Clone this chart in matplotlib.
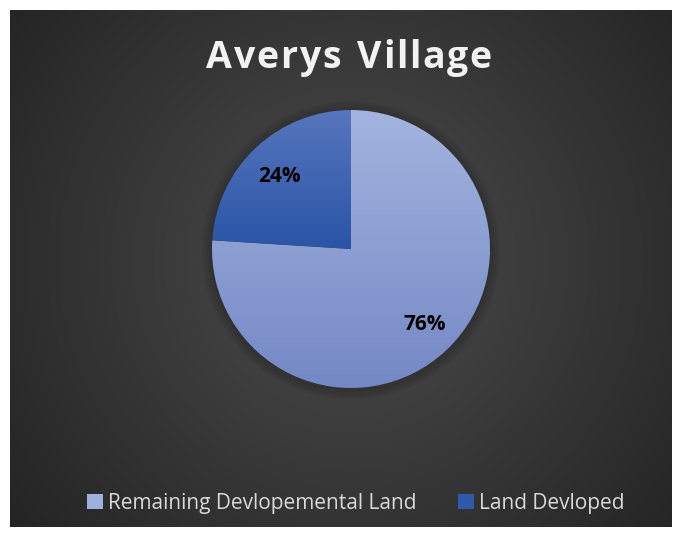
import numpy as np
import matplotlib
matplotlib.use("Agg")
import matplotlib.pyplot as plt
from matplotlib.patches import Patch, Circle
from matplotlib.colors import LinearSegmentedColormap

title = "Averys Village"
categories = ["Remaining Devlopemental Land", "Land Devloped"]
values = [76, 24]
pct_labels = ["76%", "24%"]

W, H = 680, 535
fig = plt.figure(figsize=(W / 100, H / 100), dpi=100)
fig.patch.set_facecolor("white")

# background panel with radial gradient
bg = fig.add_axes([10 / W, 1 - 527 / H, 662 / W, 517 / H])
bg.set_axis_off()
yy, xx = np.mgrid[0:517, 0:662]
cx, cy = 340, 250
d = np.sqrt(((xx - cx) / 420.0) ** 2 + ((yy - cy) / 420.0) ** 2)
d = np.clip(d, 0, 1)
c0, c1 = 0.30, 0.145
img = c0 + (c1 - c0) * d
bg.imshow(np.dstack([img, img, img]), aspect="auto", extent=[0, 1, 0, 1], zorder=0)
bg.set_xlim(0, 1)
bg.set_ylim(0, 1)

# pie axes
r = 139
pcx, pcy = 351, 249
pad = 12
ax = fig.add_axes([(pcx - r - pad) / W, 1 - (pcy + r + pad) / H, (2 * r + 2 * pad) / W, (2 * r + 2 * pad) / H])
ax.set_axis_off()
lim = 1 + pad / r

for i, a in enumerate([0.05, 0.05, 0.05, 0.05]):
    ax.add_patch(Circle((0, -0.01), 1 + 0.018 * (i + 1), color="black", alpha=a, lw=0, zorder=1))

wedges, _ = ax.pie(values, startangle=90, counterclock=False, radius=1,
                   wedgeprops=dict(linewidth=0), frame=False)
ax.set_aspect("auto")

grads = [("#a4b4df", "#7488c5"), ("#5676bd", "#2a54a6")]
for w, (top, bot) in zip(wedges, grads):
    w.set_facecolor("none")
    w.set_zorder(2)
    cmap = LinearSegmentedColormap.from_list("g", [bot, top])
    bb = w.get_path().get_extents(w.get_transform() - ax.transData)
    grad = np.linspace(0, 1, 256).reshape(-1, 1)
    im = ax.imshow(grad, cmap=cmap, origin="lower", aspect="auto",
                   extent=[-1, 1, bb.y0, bb.y1], zorder=2)
    im.set_clip_path(w)
ax.set_xlim(-lim, lim)
ax.set_ylim(-lim, lim)

lab_pos = [(425, 325), (279, 177)]
for (px, py), t in zip(lab_pos, pct_labels):
    fig.text(px / W, 1 - py / H, t, ha="center", va="center", fontsize=15,
             fontweight="bold", family="Open Sans", color="black")

# title with expanded letter spacing
fig.canvas.draw()
renderer = fig.canvas.get_renderer()
tprops = dict(fontsize=27, fontweight="bold", family="Open Sans", color="#f2f2f2")
spacing = 1.6
widths = []
for ch in title:
    t = fig.text(0, 0, ch if ch != " " else "n", **tprops)
    widths.append(t.get_window_extent(renderer).width * (0.55 if ch == " " else 1))
    t.remove()
total = sum(widths) + spacing * (len(title) - 1)
x = 349 - total / 2
for ch, wdt in zip(title, widths):
    if ch != " ":
        fig.text(x / W, 1 - 58 / H, ch, ha="left", va="center", **tprops)
    x += wdt + spacing

handles = [Patch(facecolor="#9fb0dc", edgecolor="none"), Patch(facecolor="#2f5aab", edgecolor="none")]
leg = fig.legend(handles, categories, loc="center", bbox_to_anchor=(356 / W, 1 - 503 / H),
                 ncol=2, frameon=False, handlelength=0.75, handleheight=0.75,
                 handletextpad=0.25, columnspacing=2.0,
                 prop=dict(family="Open Sans", size=15))
for t in leg.get_texts():
    t.set_color("#d9d9d9")

fig.savefig("out.png", dpi=100, facecolor=fig.get_facecolor())
